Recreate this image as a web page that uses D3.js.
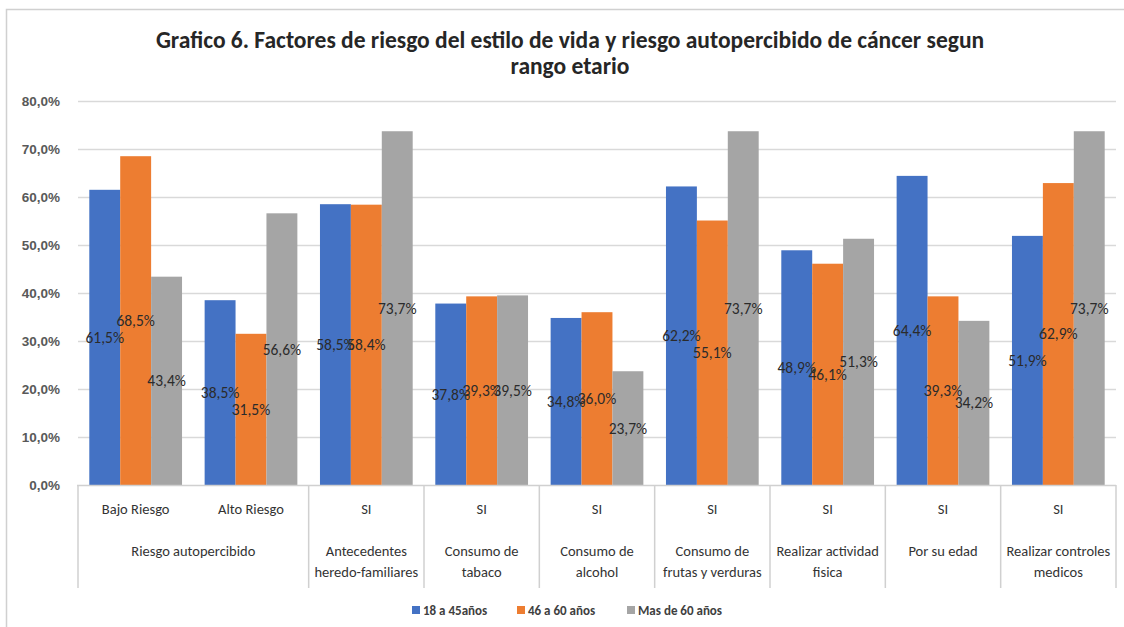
<!DOCTYPE html>
<html>
<head>
<meta charset="utf-8">
<script src="https://cdn.jsdelivr.net/npm/d3@7"></script>
<style>
  body { margin: 0; background: #fff; }
  svg { display: block; font-family: Carlito, Calibri, "Liberation Sans Narrow", "Open Sans", sans-serif; }
</style>
</head>
<body>
<div id="chart"></div>
<script>
(function() {
  'use strict';

  // datos
  var categorias = ['Bajo Riesgo', 'Alto Riesgo', 'SI', 'SI', 'SI', 'SI', 'SI', 'SI', 'SI'];
  var grupos = [
    {lineas: ['Riesgo autopercibido'], desde: 0, n: 2},
    {lineas: ['Antecedentes', 'heredo-familiares'], desde: 2, n: 1},
    {lineas: ['Consumo de', 'tabaco'], desde: 3, n: 1},
    {lineas: ['Consumo de', 'alcohol'], desde: 4, n: 1},
    {lineas: ['Consumo de', 'frutas y verduras'], desde: 5, n: 1},
    {lineas: ['Realizar actividad', 'fisica'], desde: 6, n: 1},
    {lineas: ['Por su edad'], desde: 7, n: 1},
    {lineas: ['Realizar controles', 'medicos'], desde: 8, n: 1}
  ];
  var series = ['18 a 45años', '46 a 60 años', 'Mas de 60 años'];
  var joven = [61.5, 38.5, 58.5, 37.8, 34.8, 62.2, 48.9, 64.4, 51.9];
  var medio = [68.5, 31.5, 58.4, 39.3, 36.0, 55.1, 46.1, 39.3, 62.9];
  var mayor = [43.4, 56.6, 73.7, 39.5, 23.7, 73.7, 51.3, 34.2, 73.7];
  var yTicks = [0, 10, 20, 30, 40, 50, 60, 70, 80];
  var colores = ['#4472C4', '#ED7D31', '#A5A5A5'];

  var valores = [joven, medio, mayor];
  var W = 1124, H = 627;
  var margin = {top: 101, right: 8, bottom: 142, left: 78};
  var width = W - margin.left - margin.right,
      height = H - margin.top - margin.bottom;

  var fmt = function(v) { return v.toFixed(1).replace('.', ',') + '%'; };

  var svg = d3.select('#chart').append('svg')
    .attr('width', W).attr('height', H);

  // borde del area del grafico
  svg.append('path')
    .attr('d', 'M6.5,' + H + 'V9.5H' + W)
    .attr('fill', 'none').attr('stroke', '#d0d0d0').attr('stroke-width', 1.5);

  var title = svg.append('text')
    .attr('text-anchor', 'middle')
    .attr('font-size', 23.5).attr('font-weight', 'bold').attr('fill', '#262626');
  title.append('tspan').attr('x', 570).attr('y', 48)
    .text('Grafico 6. Factores de riesgo del estilo de vida y riesgo autopercibido de cáncer segun');
  title.append('tspan').attr('x', 570).attr('y', 74).text('rango etario');

  var g = svg.append('g').attr('transform', 'translate(' + margin.left + ',' + margin.top + ')');

  var x = d3.scaleBand().domain(d3.range(categorias.length)).range([0, width])
    .paddingInner(0.196).paddingOuter(0.098);
  var xs = d3.scaleBand().domain(d3.range(series.length)).range([0, x.bandwidth()]);
  var y = d3.scaleLinear().domain([0, 80]).range([height, 0]);
  var step = x.step();

  // rejilla
  g.append('g').selectAll('line').data(yTicks.slice(1)).join('line')
    .attr('x1', 0).attr('x2', width)
    .attr('y1', function(d) { return y(d) + 0.5; })
    .attr('y2', function(d) { return y(d) + 0.5; })
    .attr('stroke', '#d9d9d9').attr('stroke-width', 1.5);

  // eje y
  var yAxis = g.append('g').attr('transform', 'translate(-15,0)')
    .call(d3.axisLeft(y).tickValues(yTicks).tickSize(0).tickFormat(function(d) { return d.toFixed(1).replace('.', ',') + '%'; }));
  yAxis.select('.domain').remove();
  yAxis.selectAll('text').attr('font-size', 13.5).attr('font-weight', 'bold')
    .attr('fill', '#595959').attr('font-family', null);

  // barras
  var cat = g.append('g').selectAll('g').data(categorias).join('g')
    .attr('transform', function(d, i) { return 'translate(' + x(i) + ',0)'; });

  cat.selectAll('rect').data(function(d, i) { return valores.map(function(s, k) { return {k: k, v: s[i]}; }); })
    .join('rect')
    .attr('x', function(d) { return xs(d.k); })
    .attr('width', xs.bandwidth())
    .attr('y', function(d) { return y(d.v); })
    .attr('height', function(d) { return height - y(d.v); })
    .attr('fill', function(d) { return colores[d.k]; });

  // etiquetas de datos (centro de la barra)
  cat.selectAll('text.lbl').data(function(d, i) { return valores.map(function(s, k) { return {k: k, v: s[i]}; }); })
    .join('text').attr('class', 'lbl')
    .attr('x', function(d) { return xs(d.k) + xs.bandwidth() / 2; })
    .attr('y', function(d) { return y(d.v / 2); })
    .attr('dy', '0.35em')
    .attr('text-anchor', 'middle')
    .attr('font-size', 15.5).attr('fill', '#2b2b2b')
    .text(function(d) { return fmt(d.v); });

  // eje x multinivel
  var axisG = g.append('g').attr('transform', 'translate(0,' + height + ')');
  axisG.append('line').attr('x1', -1).attr('x2', width).attr('y1', 0.5).attr('y2', 0.5)
    .attr('stroke', '#d0d0d0').attr('stroke-width', 1.5);

  var sep = [0].concat(grupos.map(function(gr) { return gr.desde + gr.n; }));
  axisG.selectAll('line.sep').data(sep).join('line').attr('class', 'sep')
    .attr('x1', function(d) { return d * step; }).attr('x2', function(d) { return d * step; })
    .attr('y1', 0).attr('y2', 103)
    .attr('stroke', '#d0d0d0').attr('stroke-width', 1.5);

  axisG.selectAll('text.cat').data(categorias).join('text').attr('class', 'cat')
    .attr('x', function(d, i) { return x(i) + x.bandwidth() / 2; })
    .attr('y', 29)
    .attr('text-anchor', 'middle').attr('font-size', 14.5).attr('fill', '#333')
    .text(function(d) { return d; });

  var gt = axisG.selectAll('text.grp').data(grupos).join('text').attr('class', 'grp')
    .attr('text-anchor', 'middle').attr('font-size', 14.5).attr('fill', '#333');
  gt.each(function(gr) {
    var cx = (gr.desde + gr.n / 2) * step;
    d3.select(this).selectAll('tspan').data(gr.lineas).join('tspan')
      .attr('x', cx).attr('y', function(d, i) { return 71 + i * 21; })
      .text(function(d) { return d; });
  });

  // leyenda
  var legX = [412, 517, 627];
  var leg = svg.append('g').selectAll('g').data(series).join('g')
    .attr('transform', function(d, i) { return 'translate(' + legX[i] + ',606)'; });
  leg.append('rect').attr('width', 8).attr('height', 8)
    .attr('fill', function(d, i) { return colores[i]; });
  leg.append('text').attr('x', 11).attr('y', 8.5)
    .attr('font-size', 13).attr('font-weight', 'bold').attr('fill', '#404040')
    .text(function(d) { return d; });
})();
</script>
</body>
</html>
